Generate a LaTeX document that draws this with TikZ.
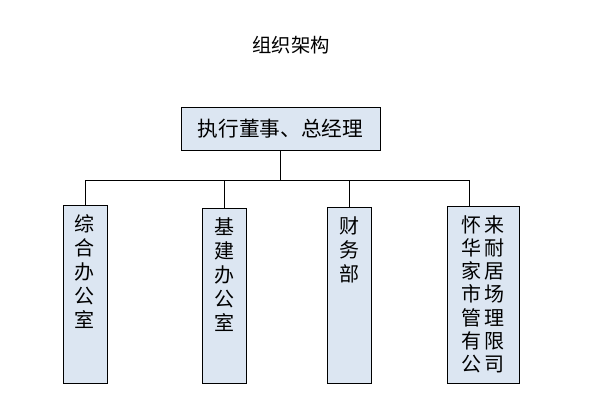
\documentclass[tikz,border=0pt]{standalone}
\usepackage{fontspec}
\setmainfont{Noto Sans CJK SC}
\definecolor{boxfill}{HTML}{DCE6F2}

\begin{document}
\begin{tikzpicture}[
    x=0.75pt, y=-0.75pt,
    every node/.style={align=center},
    box/.style={
        rectangle,
        draw=black,
        fill=boxfill,
        minimum width=149.25pt,
        minimum height=32.25pt,
        inner sep=0pt,
        font=\fontsize{15.5}{18}\selectfont
    },
    line/.style={draw, line width=0.75pt},
    colbox/.style={
    rectangle,
    draw=black,
    fill=boxfill,
    anchor=north,
    inner sep=0pt,
    text height=19.5pt,
    font=\fontsize{15}{18}\selectfont
    },
]

\useasboundingbox (0,0) rectangle (597,416);

% Title
\node[font=\fontsize{14.5}{17}\selectfont] (title) at (291,45) {组织架构};

% Top node
\node[box] (gm) at (280.5,128.5) {执行董事、总经理};

% Departments
\node[colbox, text width=33pt, text depth=114pt]    (zhb) at (85,205)  {综\\合\\办\\公\\室};
\node[colbox, text width=33pt, text depth=111.75pt] (jjb) at (224,208) {基\\建\\办\\公\\室};
\node[colbox, text width=33pt, text depth=112.5pt]  (cwb) at (349,207) {财\\务\\部};
\node[colbox, text width=54pt, text depth=113.25pt,
      font=\fontsize{15}{17.4}\selectfont]           (hlb) at (483,206)
    {怀\hspace{3pt}来\\华\hspace{3pt}耐\\家\hspace{3pt}居\\市\hspace{3pt}场\\管\hspace{3pt}理\\有\hspace{3pt}限\\公\hspace{3pt}司};

% Connections
\draw[line] (gm.south) -- +(0,30) -| (zhb.north);
\draw[line] (gm.south) -- +(0,30) -| (jjb.north);
\draw[line] (gm.south) -- +(0,30) -| (cwb.north);
\draw[line] (gm.south) -- +(0,30) -| ([xshift=-10.5pt]hlb.north);

\end{tikzpicture}
\end{document}
